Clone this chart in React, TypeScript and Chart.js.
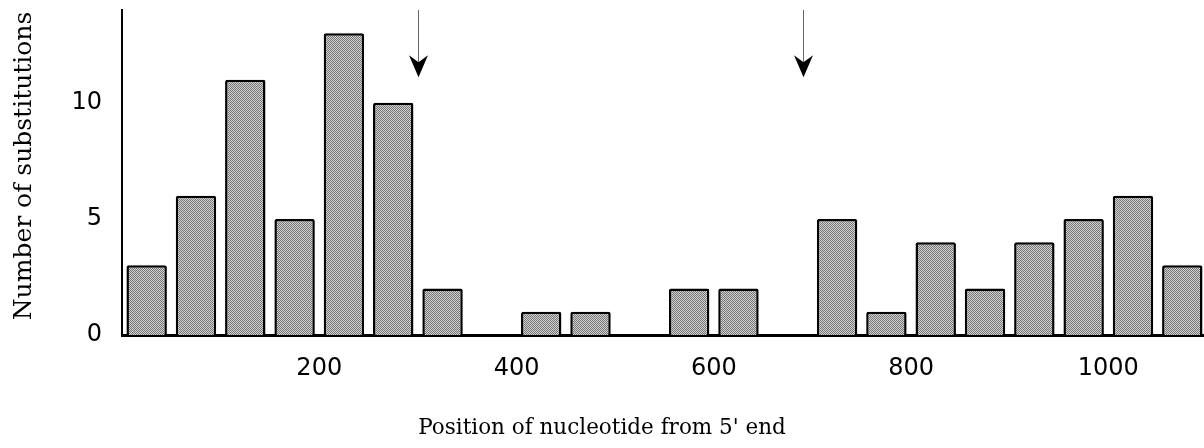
import React, { useEffect, useRef } from "react";
import { Chart, registerables } from "chart.js";

Chart.register(...registerables);

// ---- data ----
const binStarts = [0, 50, 100, 150, 200, 250, 300, 350, 400, 450, 500, 550, 600, 650, 700, 750, 800, 850, 900, 950, 1000, 1050];
const substitutionCounts = [3, 6, 11, 5, 13, 10, 2, 0, 1, 1, 0, 2, 2, 0, 5, 1, 4, 2, 4, 5, 6, 3];
const binWidth = 50;
const xTickValues = [200, 400, 600, 800, 1000];
const yTickValues = [0, 5, 10];
const xRange = [0, 1097];
const yRange = [0, 14];
const arrowPositions = [300, 690];
const arrowTipValue = 11.1;
const xTitle = "Position of nucleotide from 5' end";
const yTitle = "Number of substitutions";

function makePattern(): CanvasPattern | string {
  const c = document.createElement("canvas");
  c.width = 2;
  c.height = 2;
  const g = c.getContext("2d");
  if (!g) return "#aaaaaa";
  g.fillStyle = "#cfcfcf";
  g.fillRect(0, 0, 2, 2);
  g.fillStyle = "#787878";
  g.fillRect(0, 0, 1, 1);
  g.fillRect(1, 1, 1, 1);
  const p = g.createPattern(c, "repeat");
  return p || "#aaaaaa";
}

const annotations = {
  id: "annotations",
  afterDraw(chart: any) {
    const { ctx, scales, chartArea } = chart;
    const x = scales.x;
    const y = scales.y;
    ctx.save();
    // arrows
    arrowPositions.forEach((p) => {
      const px = Math.round(x.getPixelForValue(p)) + 0.5;
      const tip = y.getPixelForValue(arrowTipValue);
      ctx.strokeStyle = "#666";
      ctx.lineWidth = 1;
      ctx.beginPath();
      ctx.moveTo(px, chartArea.top);
      ctx.lineTo(px, tip - 12);
      ctx.stroke();
      ctx.fillStyle = "#000";
      ctx.beginPath();
      ctx.moveTo(px, tip);
      ctx.lineTo(px - 9.5, tip - 22);
      ctx.lineTo(px, tip - 15);
      ctx.lineTo(px + 9.5, tip - 22);
      ctx.closePath();
      ctx.fill();
    });
    // axis titles
    ctx.fillStyle = "#000";
    ctx.font = '21.5px "DejaVu Serif"';
    ctx.textAlign = "center";
    ctx.textBaseline = "alphabetic";
    ctx.fillText(xTitle, chart.width / 2, 434);
    ctx.translate(24, 166);
    ctx.rotate(-Math.PI / 2);
    ctx.font = '25px "DejaVu Serif"';
    ctx.textBaseline = "middle";
    ctx.fillText(yTitle, 0, 0);
    ctx.restore();
  },
};

export default function App() {
  const ref = useRef<HTMLCanvasElement | null>(null);

  useEffect(() => {
    if (!ref.current) return;
    const pattern = makePattern();
    const chart = new Chart(ref.current, {
      type: "bar",
      data: {
        datasets: [
          {
            data: binStarts.map((s, i) => ({ x: s + binWidth / 2, y: substitutionCounts[i] })),
            backgroundColor: pattern as any,
            borderColor: "#000",
            borderWidth: 2.5,
            borderRadius: 2,
            borderSkipped: "start",
            barPercentage: 0.82,
            categoryPercentage: 1,
          },
        ],
      },
      options: {
        animation: false,
        responsive: true,
        maintainAspectRatio: false,
        layout: { padding: { top: 10, left: 0, right: 0, bottom: 0 } },
        plugins: { legend: { display: false }, tooltip: { enabled: false }, title: { display: false } },
        scales: {
          x: {
            type: "linear",
            min: xRange[0],
            max: xRange[1],
            offset: false,
            grid: { display: false, drawTicks: false, offset: false },
            border: { display: true, color: "#000", width: 3 },
            afterBuildTicks: (scale: any) => {
              scale.ticks = xTickValues.map((v) => ({ value: v }));
            },
            afterFit: (scale: any) => {
              scale.height = 113;
              scale.paddingLeft = 0;
              scale.paddingRight = 0;
            },
            ticks: {
              padding: 19,
              color: "#000",
              font: { family: "DejaVu Sans", size: 24 },
              maxRotation: 0,
              autoSkip: false,
              callback: (v: any) => String(v),
            },
          },
          y: {
            min: yRange[0],
            max: yRange[1],
            grid: { display: false, drawTicks: false },
            border: { display: true, color: "#000", width: 2 },
            afterBuildTicks: (scale: any) => {
              scale.ticks = yTickValues.map((v) => ({ value: v }));
            },
            afterFit: (scale: any) => {
              scale.width = 122;
              scale.paddingTop = 0;
              scale.paddingBottom = 0;
            },
            ticks: {
              padding: 20,
              color: "#000",
              font: { family: "DejaVu Sans", size: 24 },
            },
          },
        },
      },
      plugins: [annotations],
    });
    return () => chart.destroy();
  }, []);

  return (
    <div style={{ position: "absolute", left: 0, top: 0, width: 1204, height: 448, background: "#fff" }}>
      <canvas ref={ref} />
    </div>
  );
}
